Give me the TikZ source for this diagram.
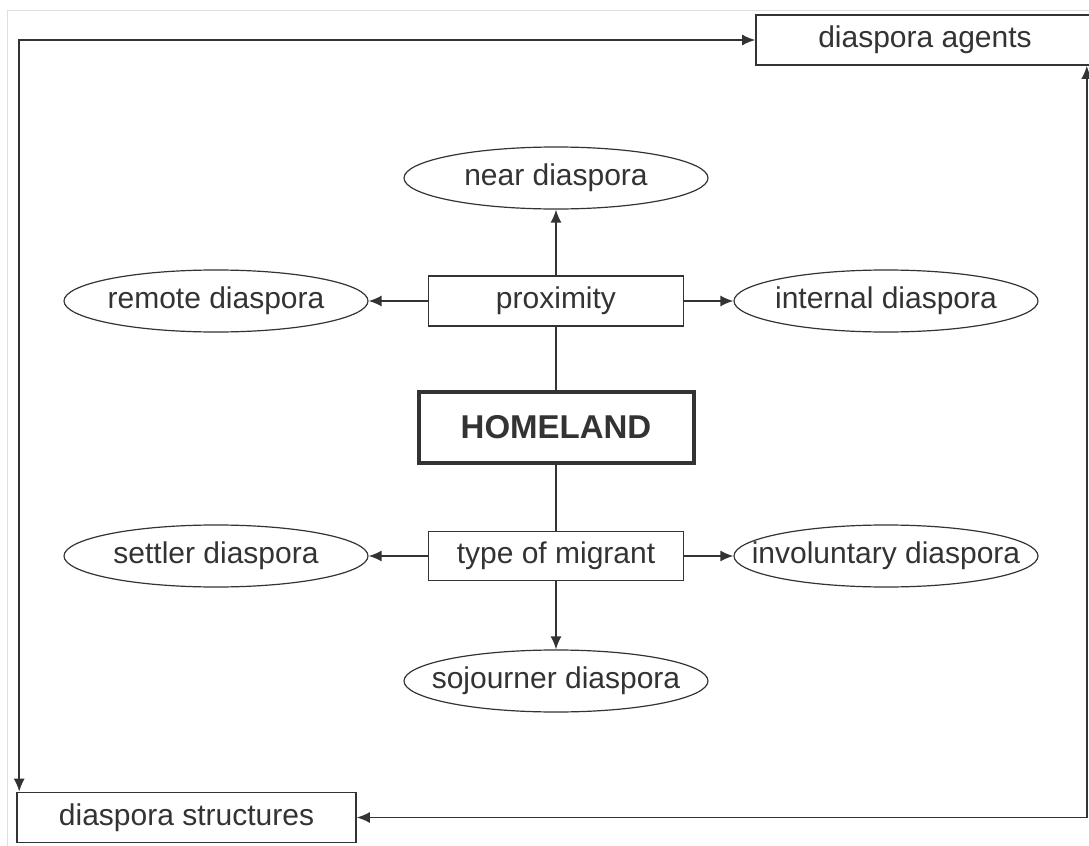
\documentclass[tikz,border=0pt]{standalone}
\usepackage{fontspec}
\setmainfont{Liberation Sans}
\usepackage{xcolor}
\usepackage{tikz}
\usetikzlibrary{arrows.meta, positioning, shapes.geometric}
\definecolor{inkgray}{HTML}{333333}

\begin{document}
\begin{tikzpicture}[x=0.5pt,y=-0.5pt,>={Latex[length=6.5pt,width=5.5pt]},
  line width=0.8pt, color=inkgray, font=\fontsize{15}{18}\selectfont,
  box node/.style={rectangle,draw,minimum width=127.5pt,minimum height=25pt,inner sep=0pt},
  kind node/.style={ellipse,draw,line width=0.6pt,minimum width=152pt,minimum height=31pt,inner sep=0pt,
    execute at begin node={\hbox to 0pt\bgroup\hss},execute at end node={\hss\egroup}}]

  \useasboundingbox (0,0) rectangle (1089,846);
  \draw[gray!25,line width=0.5pt] (7,10) rectangle (1100,860);

  \node[box node,line width=2pt,minimum width=137.5pt,minimum height=35.5pt,
    font=\fontsize{16.5}{20}\selectfont\bfseries] (home) at (556,427) {HOMELAND};
  \node[box node] (prox) [above of=home,node distance=63pt] {proximity};
  \node[kind node] (near) [above of=prox,node distance=61.5pt] {near diaspora};
  \node[kind node] (remote) [left of=prox,node distance=170pt] {remote diaspora};
  \node[kind node] (internal) [right of=prox,node distance=165pt] {internal diaspora};

  \node[box node,minimum height=24.5pt] (type) [below of=home,node distance=64.5pt] {type of migrant};
  \node[kind node] (settler) [left of=type,node distance=170pt] {settler diaspora};
  \node[kind node] (invol) [right of=type,node distance=165pt] {involuntary diaspora};
  \node[kind node] (sojourn) [below of=type,node distance=62.5pt] {sojourner diaspora};

  \node[box node,minimum width=169pt] (agents) at (925,40) {diaspora agents};
  \node[box node,minimum width=169.5pt] (struct) at (186.5,817.5) {diaspora structures};

  \path[->]
    (prox) edge (near)
    (prox) edge (remote)
    (prox) edge (internal)
    (type) edge (settler)
    (type) edge (invol)
    (type) edge (sojourn);
  \path (prox) edge (home)
    (home) edge (type);

  % feedback loop
  \draw[<->] (agents.west) -| ([xshift=1.5pt]struct.north west);
  \draw[<->] (struct.east) -| ([xshift=-4pt]agents.south east);
\end{tikzpicture}
\end{document}
